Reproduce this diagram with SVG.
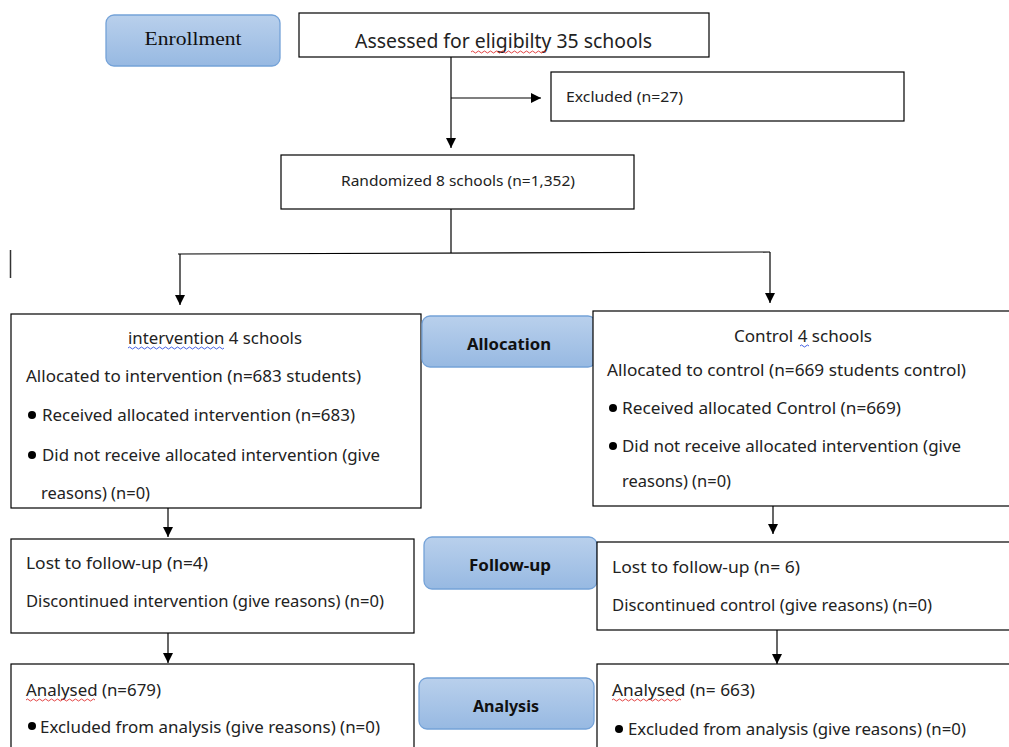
<svg xmlns="http://www.w3.org/2000/svg" width="1009" height="747" viewBox="0 0 1009 747">
<defs>
<linearGradient id="pg" x1="0" y1="0" x2="0" y2="1">
<stop offset="0" stop-color="#b9d0ec"/>
<stop offset="1" stop-color="#97b9e2"/>
</linearGradient>
<marker id="ah" viewBox="0 0 10 10" refX="10" refY="5" markerWidth="10" markerHeight="10" markerUnits="userSpaceOnUse" orient="auto">
<path d="M0,0 L10,5 L0,10 z" fill="#000"/>
</marker>
</defs>
<style>
.box{fill:#fff;stroke:#000;stroke-width:1.2}
.pill{fill:url(#pg);stroke:#74a2d8;stroke-width:1.3}
.t{font-family:"Noto Sans","Liberation Sans",sans-serif;font-size:16px;fill:#222}
.pt{font-family:"Noto Sans","Liberation Sans",sans-serif;font-size:16px;font-weight:bold;fill:#111}
.ser{font-family:"Liberation Serif",serif;font-size:19px;fill:#111}
.ln{stroke:#000;stroke-width:1.2;fill:none}
.arr{stroke:#000;stroke-width:1.2;fill:none;marker-end:url(#ah)}
.red{stroke:#e03030;stroke-width:0.9;fill:none}
.blu{stroke:#3050e0;stroke-width:0.9;fill:none}
.dot{fill:#000}
</style>

<g id="connectors">
<line class="arr" x1="451" y1="57" x2="451" y2="148"/>
<line class="arr" x1="451" y1="98" x2="541" y2="98"/>
<line class="ln" x1="451" y1="209" x2="451" y2="253"/>
<line class="ln" x1="178" y1="254" x2="770" y2="252"/>
<line class="arr" x1="180" y1="254" x2="180" y2="305"/>
<line class="arr" x1="770" y1="252" x2="770" y2="303"/>
<line class="arr" x1="168" y1="508" x2="168" y2="537"/>
<line class="arr" x1="773" y1="506" x2="773" y2="534"/>
<line class="arr" x1="168" y1="633" x2="168" y2="663"/>
<line class="arr" x1="777" y1="630" x2="777" y2="664"/>
<line x1="10.5" y1="250" x2="10.5" y2="278" stroke="#333" stroke-width="1.5"/>
</g>

<g id="enrollment">
<rect class="pill" x="106" y="15" width="174" height="51" rx="8"/>
<text class="ser" x="193" y="45" text-anchor="middle" textLength="97" lengthAdjust="spacingAndGlyphs">Enrollment</text>
</g>

<g id="assessed">
<rect class="box" x="299" y="13" width="410" height="44"/>
<text class="t" x="355" y="48" style="font-size:19px" textLength="297" lengthAdjust="spacingAndGlyphs">Assessed for eligibilty 35 schools</text>
<path class="red" d="M471,52 q1.5,-2 3,0 t3,0 t3,0 t3,0 t3,0 t3,0 t3,0 t3,0 t3,0 t3,0 t3,0 t3,0 t3,0 t3,0 t3,0 t3,0 t3,0 t3,0 t3,0 t3,0 t3,0 t3,0 t3,0 t3,0 t3,0"/>
</g>

<g id="excluded">
<rect class="box" x="551" y="72" width="353" height="49"/>
<text class="t" x="566" y="102" style="font-size:15px" textLength="117" lengthAdjust="spacingAndGlyphs">Excluded (n=27)</text>
</g>

<g id="randomized">
<rect class="box" x="281" y="155" width="353" height="54"/>
<text class="t" x="341" y="186" style="font-size:15px" textLength="234" lengthAdjust="spacingAndGlyphs">Randomized 8 schools (n=1,352)</text>
</g>

<g id="intervention">
<rect class="box" x="11" y="314" width="410" height="194"/>
<text class="t" x="128" y="344" textLength="174" lengthAdjust="spacingAndGlyphs">intervention 4 schools</text>
<path class="blu" d="M128,348 q1.5,-2 3,0 t3,0 t3,0 t3,0 t3,0 t3,0 t3,0 t3,0 t3,0 t3,0 t3,0 t3,0 t3,0 t3,0 t3,0 t3,0 t3,0 t3,0 t3,0 t3,0 t3,0 t3,0 t3,0 t3,0 t3,0 t3,0 t3,0 t3,0 t3,0 t3,0 t3,0 t3,0"/>
<text class="t" x="26" y="382" textLength="335" lengthAdjust="spacingAndGlyphs">Allocated to intervention (n=683 students)</text>
<circle class="dot" cx="32" cy="415" r="4"/>
<text class="t" x="42" y="421" textLength="313" lengthAdjust="spacingAndGlyphs">Received allocated intervention (n=683)</text>
<circle class="dot" cx="32" cy="455" r="4"/>
<text class="t" x="42" y="461" textLength="338" lengthAdjust="spacingAndGlyphs">Did not receive allocated intervention (give</text>
<text class="t" x="41" y="499" textLength="109" lengthAdjust="spacingAndGlyphs">reasons) (n=0)</text>
</g>

<g id="allocation">
<rect class="pill" x="422" y="316" width="174" height="51" rx="8"/>
<text class="pt" x="509" y="350" text-anchor="middle" textLength="84" lengthAdjust="spacingAndGlyphs">Allocation</text>
</g>

<g id="control">
<rect class="box" x="593" y="311" width="420" height="195"/>
<text class="t" x="734" y="342" textLength="138" lengthAdjust="spacingAndGlyphs">Control 4 schools</text>
<path class="blu" d="M800,346 q1.5,-2 3,0 t3,0 t3,0"/>
<text class="t" x="607" y="376" textLength="359" lengthAdjust="spacingAndGlyphs">Allocated to control (n=669 students control)</text>
<circle class="dot" cx="613" cy="408" r="4"/>
<text class="t" x="622" y="414" textLength="279" lengthAdjust="spacingAndGlyphs">Received allocated Control (n=669)</text>
<circle class="dot" cx="613" cy="446" r="4"/>
<text class="t" x="622" y="452" textLength="339" lengthAdjust="spacingAndGlyphs">Did not receive allocated intervention (give</text>
<text class="t" x="622" y="487" textLength="109" lengthAdjust="spacingAndGlyphs">reasons) (n=0)</text>
</g>

<g id="lost-intervention">
<rect class="box" x="11" y="539" width="403" height="94"/>
<text class="t" x="26" y="569" textLength="182" lengthAdjust="spacingAndGlyphs">Lost to follow-up (n=4)</text>
<text class="t" x="26" y="607" textLength="358" lengthAdjust="spacingAndGlyphs">Discontinued intervention (give reasons) (n=0)</text>
</g>

<g id="followup">
<rect class="pill" x="424" y="537" width="173" height="52" rx="8"/>
<text class="pt" x="510" y="571" text-anchor="middle" textLength="82" lengthAdjust="spacingAndGlyphs">Follow-up</text>
</g>

<g id="lost-control">
<rect class="box" x="597" y="542" width="416" height="88"/>
<text class="t" x="612" y="573" textLength="188" lengthAdjust="spacingAndGlyphs">Lost to follow-up (n= 6)</text>
<text class="t" x="612" y="611" textLength="320" lengthAdjust="spacingAndGlyphs">Discontinued control (give reasons) (n=0)</text>
</g>

<g id="analysed-intervention">
<rect class="box" x="11" y="664" width="403" height="90"/>
<text class="t" x="26" y="696" textLength="135" lengthAdjust="spacingAndGlyphs">Analysed (n=679)</text>
<path class="red" d="M26,700 q1.5,-2 3,0 t3,0 t3,0 t3,0 t3,0 t3,0 t3,0 t3,0 t3,0 t3,0 t3,0 t3,0 t3,0 t3,0 t3,0 t3,0 t3,0 t3,0 t3,0 t3,0 t3,0 t3,0 t3,0"/>
<circle class="dot" cx="32" cy="726" r="4"/>
<text class="t" x="40" y="733" textLength="340" lengthAdjust="spacingAndGlyphs">Excluded from analysis (give reasons) (n=0)</text>
</g>

<g id="analysis">
<rect class="pill" x="419" y="678" width="175" height="51" rx="8"/>
<text class="pt" x="506" y="712" text-anchor="middle" textLength="66" lengthAdjust="spacingAndGlyphs">Analysis</text>
</g>

<g id="analysed-control">
<rect class="box" x="597" y="664" width="416" height="90"/>
<text class="t" x="612" y="696" textLength="143" lengthAdjust="spacingAndGlyphs">Analysed (n= 663)</text>
<path class="red" d="M612,700 q1.5,-2 3,0 t3,0 t3,0 t3,0 t3,0 t3,0 t3,0 t3,0 t3,0 t3,0 t3,0 t3,0 t3,0 t3,0 t3,0 t3,0 t3,0 t3,0 t3,0 t3,0 t3,0 t3,0 t3,0"/>
<circle class="dot" cx="619" cy="729" r="4"/>
<text class="t" x="628" y="735" textLength="338" lengthAdjust="spacingAndGlyphs">Excluded from analysis (give reasons) (n=0)</text>
</g>
</svg>
